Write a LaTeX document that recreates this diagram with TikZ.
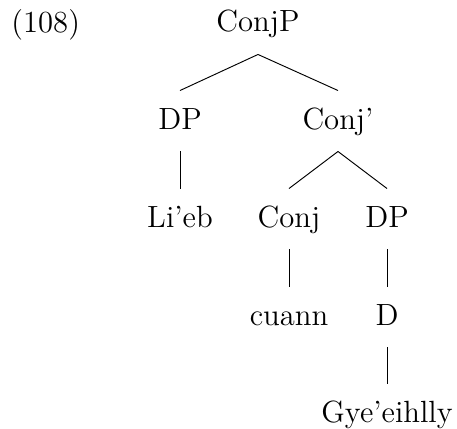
\documentclass[tikz,border=0pt]{standalone}
\begin{document}
\begin{tikzpicture}[x=0.4237pt,y=-0.4237pt,
  every node/.style={font=\fontsize{13}{15}\selectfont},
  lbl/.style={anchor=base,inner xsep=0pt,inner ysep=0pt,text height=16.1pt,text depth=9.32pt},
  edge/.style={line width=0.4pt}]
\useasboundingbox (0,0) rectangle (457,429);
% example number
\node[anchor=base west,inner sep=0pt] (num) at (11,33) {(108)};
% tree nodes
\node[lbl] (conjp)  at (258,32)  {ConjP};
\node[lbl] (dpa)    at (180,129) {DP};
\node[lbl] (conjbar) at (338,129) {Conj'};
\node[lbl] (lieb)   at (180,227) {Li'eb};
\node[lbl] (conj)   at (289,227) {Conj};
\node[lbl] (dpb)    at (387,227) {DP};
\node[lbl] (cuann)  at (289,325) {cuann};
\node[lbl] (d)      at (387,325) {D};
\node[lbl] (gye)    at (387,422) {Gye'eihlly};
% branches
\draw[edge] (conjp.south) -- (dpa.north);
\draw[edge] (conjp.south) -- (conjbar.north);
\draw[edge] (dpa.south) -- (lieb.north);
\draw[edge] (conjbar.south) -- (conj.north);
\draw[edge] (conjbar.south) -- (dpb.north);
\draw[edge] (conj.south) -- (cuann.north);
\draw[edge] (dpb.south) -- (d.north);
\draw[edge] (d.south) -- (gye.north);
\end{tikzpicture}
\end{document}
